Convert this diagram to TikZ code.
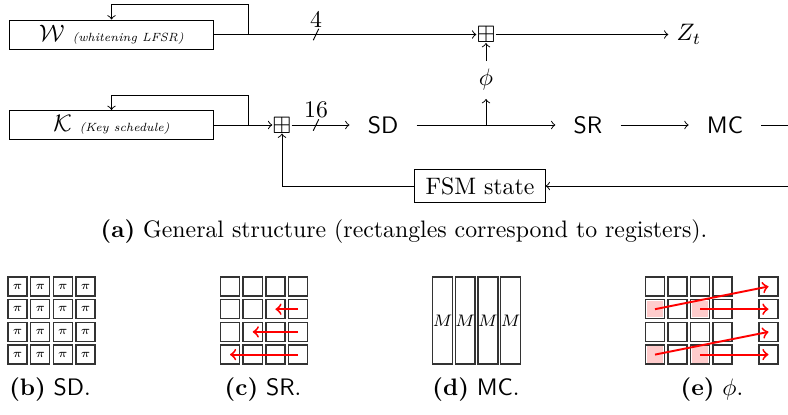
\documentclass[tikz,border=0pt]{standalone}
\usepackage{amsmath}
\usepackage{amssymb}
\usetikzlibrary{calc, positioning}

\begin{document}
\begin{tikzpicture}[x=0.42pt, y=-0.42pt,
    reg/.style={draw, minimum width=85.3pt, minimum height=12.2pt, inner sep=2pt},
    oper/.style={inner xsep=7.5pt, font=\sffamily},
    xorbox/.style={inner sep=0pt},
    cell/.style={draw=black!80, semithick, minimum size=8pt, inner sep=0pt},
    col/.style={draw=black!80, semithick, minimum width=8pt, minimum height=36.5pt, inner sep=0pt},
    move/.style={red, thick, ->}]
  \useasboundingbox (0,0) rectangle (788,414);
  % Registers
  \node[reg] (W) at (111.5,34.5) {$\mathcal{W}$ {\tiny\textit{(whitening LFSR)}}};
  \node[reg] (K) at (111.5,125) {$\mathcal{K}$ {\tiny\textit{(Key schedule)}}};
  \node[draw, inner xsep=4.5pt] (FSM) at (480,186) {FSM state};
  % Additions
  \node[xorbox] (xw) at (486,34.5) {$\boxplus$};
  \node[xorbox] (xk) at (282,125) {$\boxplus$};
  \node (phi) at (486,80) {$\phi$};
  \node (Z) at (689,34.5) {$Z_t$};
  % Round functions
  \node[oper] (SD) at (383,125) {SD};
  \node[oper] (SR) at (588,125) {SR};
  \node[oper] (MC) at (725,125) {MC};
  % Feedbacks
  \coordinate (wfb) at (248,34.5);
  \coordinate (kfb) at (248,125);
  \draw[->] (wfb) -- ++(0,-30.5) -| (W.north);
  \draw[->] (kfb) -- ++(0,-30) -| (K.north);
  % Data path
  \draw[->] (W.east) -- (xw.west);
  \draw[->] (xw) -- (Z);
  \draw[->] (K.east) -- (xk.west);
  \draw[->] (xk) -- (SD);
  \draw[->] (SD) -- (SR);
  \coordinate (br) at (486,125);
  \draw[->] (br) -- (phi);
  \draw[->] (phi) -- (xw);
  \draw[->] (SR) -- (MC);
  \coordinate (mcout) at (788,125);
  \coordinate (fsmin) at (788,186);
  \draw (MC) -- (mcout);
  \draw[->] (fsmin) -- (FSM);
  \draw[->] (FSM.west) -| (xk.south);
  % Bus widths
  \coordinate (s4) at (316,34.5);
  \coordinate (s16) at (316,125);
  \draw ([xshift=-1.15pt,yshift=-2.4pt]s4) -- ([xshift=1.15pt,yshift=2.4pt]s4);
  \draw ([xshift=-1.15pt,yshift=-2.4pt]s16) -- ([xshift=1.15pt,yshift=2.4pt]s16);
  \node[above=-0.6pt of s4] (w4) {4};
  \node[above=-0.6pt of s16] (w16) {16};
  \node (capa) at (404,232) {\textbf{(a)} General structure (rectangles correspond to registers).};
  % SD
  \foreach \i in {0,...,3}
    \foreach \j in {0,...,3}
      \node[cell] (sd\i\j) at ({17.5+22.7*\i},{286.5+22.7*\j}) {\tiny$\pi$};
  % SR
  \foreach \i in {0,...,3}
    \foreach \j in {0,...,3}
      \node[cell] (sr\i\j) at ({230+22.7*\i},{286.5+22.7*\j}) {};
  \foreach \j/\k in {1/2, 2/1, 3/0}
    \draw[move] (sr3\j.center) -- (sr\k\j.center);
  % MC
  \foreach \i in {0,...,3}
    \node[col] (mc\i) at ({442.5+22.7*\i},320.5) {\scriptsize$M$};
  % phi
  \foreach \i/\x in {0/655, 1/677.5, 2/700, 3/722.5, 4/768.5}
    \foreach \j in {0,...,3}
      \node[cell] (ph\i\j) at ({\x},{286.5+22.7*\j}) {};
  \foreach \i/\j in {0/1, 2/1, 0/3, 2/3}
    \fill[red!20] ([shift={(2,-2)}]ph\i\j.south west) rectangle ([shift={(-2,2)}]ph\i\j.north east);
  \draw[move] (ph01.center) -- (ph40.center);
  \draw[move] (ph21.center) -- (ph41.center);
  \draw[move] (ph03.center) -- (ph42.center);
  \draw[move] (ph23.center) -- (ph43.center);
  % Captions
  \node (capb) at (50,390) {\textbf{(b)} \textsf{SD}.};
  \node (capc) at (263,390) {\textbf{(c)} \textsf{SR}.};
  \node (capd) at (476,390) {\textbf{(d)} \textsf{MC}.};
  \node (cape) at (712,390) {\textbf{(e)} $\phi$.};
\end{tikzpicture}
\end{document}
